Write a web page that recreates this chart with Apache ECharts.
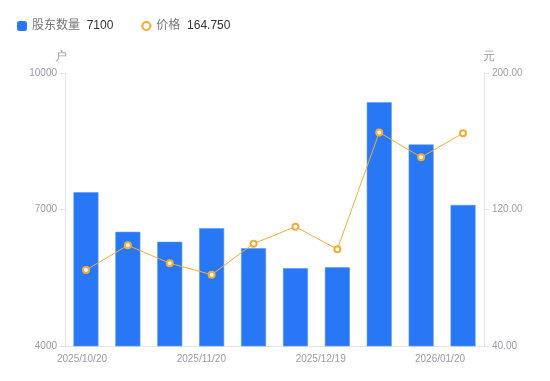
<!DOCTYPE html>
<html><head><meta charset="utf-8">
<script src="https://cdn.jsdelivr.net/npm/echarts@6/dist/echarts.min.js"></script>
<style>html,body{margin:0;padding:0;background:#fff}#c{width:550px;height:381px}</style>
</head><body><div id="c"></div>
<script>
const categories = ['2025/10/20','2025/10/31','2025/11/10','2025/11/20','2025/11/28','2025/12/10','2025/12/19','2025/12/31','2026/01/09','2026/01/20'];
const holders = [7380, 6510, 6290, 6590, 6150, 5710, 5730, 9360, 8430, 7100];
const prices = [84.5, 99.0, 88.5, 81.8, 100.0, 109.9, 96.7, 165.2, 150.6, 164.75];
const xTickLabels = ['2025/10/20','2025/11/20','2025/12/19','2026/01/20'];
const leftTicks = [4000, 10000, 3000];
const rightTicks = [40, 200, 80];

const BLUE = '#2878f5', ORANGE = '#f7ab35', GRAY = '#9b9bab', LINE = '#e3e3e8';
const chart = echarts.init(document.getElementById('c'), null, {renderer:'canvas'});
const lastH = holders[holders.length-1], lastP = prices[prices.length-1];
chart.setOption({
  animation:false,
  legend:{
    left:12, top:15, itemWidth:10, itemHeight:10, itemGap:27,
    data:[{name:'股东数量', icon:'roundRect', itemStyle:{color:BLUE, borderWidth:0}}, {name:'价格'}],
    formatter: n => n==='股东数量' ? '{n|'+n+'}  {v|'+lastH+'}' : '{n|'+n+'}  {v|'+lastP.toFixed(3)+'}',
    textStyle:{rich:{n:{color:'#777',fontSize:12,fontFamily:'Arial, "Noto Sans CJK SC", sans-serif'},v:{color:'#333',fontSize:12,fontFamily:'Arial, sans-serif'}}}
  },
  grid:[{left:65,right:66,top:73,bottom:35},{left:82,right:110,top:73,bottom:35}],
  xAxis:[{
    type:'category', data:categories, gridIndex:0,
    axisLine:{lineStyle:{color:LINE}}, axisTick:{show:false}, axisLabel:{show:false}
  },{
    type:'category', data:xTickLabels, gridIndex:1, boundaryGap:false,
    axisLine:{show:false}, axisTick:{show:false},
    axisLabel:{color:GRAY, fontSize:10, margin:8, fontFamily:'Arial, sans-serif'}
  }],
  yAxis:[{
    type:'value', gridIndex:0, min:leftTicks[0], max:leftTicks[1], interval:leftTicks[2],
    name:'户', nameTextStyle:{color:GRAY,fontSize:12,padding:[0,8,0,0]}, nameGap:10,
    axisLine:{show:true,lineStyle:{color:LINE}}, axisTick:{show:true,length:5,lineStyle:{color:LINE}},
    splitLine:{show:false}, axisLabel:{color:GRAY,fontSize:10,margin:8,fontFamily:'Arial, sans-serif',formatter:v=>String(v)}
  },{
    type:'value', gridIndex:0, position:'right', min:rightTicks[0], max:rightTicks[1], interval:rightTicks[2],
    name:'元', nameTextStyle:{color:GRAY,fontSize:12,padding:[0,0,0,10]}, nameGap:10,
    axisLine:{show:true,lineStyle:{color:LINE}}, axisTick:{show:true,length:5,lineStyle:{color:LINE}},
    splitLine:{show:false}, axisLabel:{color:GRAY,fontSize:10,margin:8,fontFamily:'Arial, sans-serif',formatter:v=>v.toFixed(2)}
  },{
    type:'value', gridIndex:1, show:false
  }],
  series:[{
    name:'股东数量', type:'bar', xAxisIndex:0, yAxisIndex:0, data:holders, barWidth:25,
    itemStyle:{color:BLUE, borderColor:'#5b97f7', borderWidth:0.6}
  },{
    name:'价格', type:'line', xAxisIndex:0, yAxisIndex:1, data:prices,
    symbol:'circle', symbolSize:6,
    itemStyle:{color:'#fff', borderColor:ORANGE, borderWidth:2},
    lineStyle:{color:ORANGE, width:1}
  }]
});
</script></body></html>
